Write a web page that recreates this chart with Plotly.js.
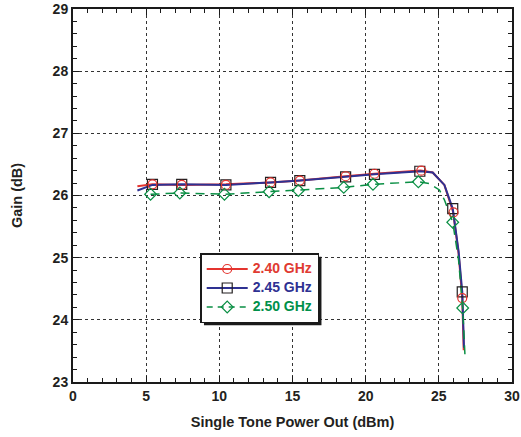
<!DOCTYPE html>
<html>
<head>
<meta charset="utf-8">
<script src="https://cdn.plot.ly/plotly-3.0.1.min.js"></script>
<style>html,body{margin:0;padding:0;background:#fff;}#chart{width:521px;height:437px;}</style>
</head>
<body>
<div id="chart"></div>
<script>
// Series names
const seriesNames = ["2.40 GHz", "2.45 GHz", "2.50 GHz"];

// 2.40 GHz curve (line) and measured points (markers)
const lineX_240 = [4.4, 5.43, 7.43, 10.45, 13.5, 15.5, 18.63, 20.6, 23.75, 24.58, 25.38, 25.97, 26.35, 26.6, 26.7];
const lineY_240 = [26.15, 26.18, 26.17, 26.18, 26.21, 26.24, 26.31, 26.35, 26.40, 26.37, 26.17, 25.74, 25.07, 24.35, 23.51];
const markX_240 = [5.43, 7.43, 10.45, 13.5, 15.5, 18.63, 20.6, 23.8, 26.0, 26.6];
const markY_240 = [26.18, 26.17, 26.17, 26.21, 26.24, 26.31, 26.35, 26.40, 25.73, 24.35];

// 2.45 GHz
const lineX_245 = [4.4, 5.43, 7.43, 10.45, 13.5, 15.5, 18.63, 20.6, 23.75, 24.58, 25.38, 25.95, 26.35, 26.6, 26.72];
const lineY_245 = [26.08, 26.17, 26.18, 26.17, 26.21, 26.24, 26.30, 26.34, 26.39, 26.37, 26.17, 25.79, 25.10, 24.45, 23.55];
const markX_245 = [5.43, 7.43, 10.45, 13.5, 15.5, 18.63, 20.6, 23.7, 25.95, 26.6];
const markY_245 = [26.18, 26.18, 26.17, 26.21, 26.24, 26.30, 26.34, 26.39, 25.79, 24.45];

// 2.50 GHz
const lineX_250 = [5.3, 7.3, 10.35, 13.4, 15.4, 18.5, 20.5, 23.6, 24.36, 25.04, 25.38, 25.95, 26.35, 26.63, 26.79];
const lineY_250 = [26.02, 26.04, 26.02, 26.06, 26.08, 26.13, 26.18, 26.22, 26.19, 26.09, 25.93, 25.57, 24.96, 24.19, 23.41];
const markX_250 = [5.3, 7.3, 10.35, 13.4, 15.4, 18.5, 20.5, 23.6, 25.95, 26.63];
const markY_250 = [26.02, 26.04, 26.02, 26.06, 26.08, 26.13, 26.18, 26.22, 25.57, 24.19];

// Axis ticks
const xTicks = [0, 5, 10, 15, 20, 25, 30];
const yTicks = [23, 24, 25, 26, 27, 28, 29];

const RED = "#e4342f", BLUE = "#2e3192", GREEN = "#0a8f44";
const RED_T = "#e03a31", BLUE_T = "#2e3192", GREEN_T = "#00904a";
const FONT = "Liberation Sans, Arial, sans-serif";

function legName(color, txt) {
  return "<b><span style='color:" + color + ";font-size:14px'>" + txt + "</span></b>";
}

const traces = [
  {x: lineX_240, y: lineY_240, mode: "lines", line: {color: RED, width: 2}, showlegend: false, hoverinfo: "skip"},
  {x: lineX_245, y: lineY_245, mode: "lines", line: {color: BLUE, width: 2}, showlegend: false, hoverinfo: "skip"},
  {x: lineX_250, y: lineY_250, mode: "lines", line: {color: GREEN, width: 1.5, dash: "9px,6px"}, showlegend: false, hoverinfo: "skip"},
  {x: markX_245, y: markY_245, mode: "markers", marker: {symbol: "square-open", size: 10, color: "#231f20", line: {width: 1.2}}, showlegend: false},
  {x: markX_240, y: markY_240, mode: "markers", marker: {symbol: "circle-open", size: 9, color: RED, line: {width: 1.2}}, showlegend: false},
  {x: markX_250, y: markY_250, mode: "markers", marker: {symbol: "diamond-open", size: 9, color: GREEN, line: {width: 1.2}}, showlegend: false},
  {x: [null], y: [null], mode: "lines+markers", name: legName(RED_T, seriesNames[0]),
   line: {color: RED, width: 2}, marker: {symbol: "circle-open", size: 9, color: RED, line: {width: 1.2}}},
  {x: [null], y: [null], mode: "lines+markers", name: legName(BLUE_T, seriesNames[1]),
   line: {color: BLUE, width: 2}, marker: {symbol: "square-open", size: 10, color: "#231f20", line: {width: 1.2}}},
  {x: [null], y: [null], mode: "lines+markers", name: legName(GREEN_T, seriesNames[2]),
   line: {color: GREEN, width: 1.5, dash: "6px,5px"}, marker: {symbol: "diamond-open", size: 9, color: GREEN, line: {width: 1.2}}}
];

const axisCommon = {
  showline: true, linecolor: "#1a1a1a", linewidth: 2, mirror: "allticks",
  ticks: "inside", ticklen: 6, tickcolor: "#1a1a1a", tickwidth: 1,
  showgrid: true, gridcolor: "#333", griddash: "dot", gridwidth: 1,
  zeroline: false,
  tickfont: {family: FONT, size: 14, color: "#231f20", weight: "bold"}
};

const layout = {
  width: 521, height: 437,
  margin: {l: 73, r: 9, t: 9, b: 55},
  paper_bgcolor: "#fff", plot_bgcolor: "#fff",
  font: {family: FONT, color: "#231f20"},
  xaxis: Object.assign({}, axisCommon, {
    range: [0, 30], tickvals: xTicks, ticktext: xTicks.map(String),
    minor: {dtick: 1, ticks: "inside", ticklen: 4, tickcolor: "#1a1a1a", showgrid: false},
    title: {text: "<b>Single Tone Power Out (dBm)</b>", font: {size: 14.5}, standoff: 14}
  }),
  yaxis: Object.assign({}, axisCommon, {
    range: [23, 29], tickvals: yTicks, ticktext: yTicks.map(String),
    minor: {dtick: 0.2, ticks: "inside", ticklen: 4, tickcolor: "#1a1a1a", showgrid: false},
    title: {text: "<b>Gain (dB)</b>", font: {size: 14.5}, standoff: 27}
  }),
  legend: {
    x: (200 - 72.7) / 439.3, y: (382 - 253) / 373, xanchor: "left", yanchor: "top",
    bgcolor: "#fff", bordercolor: "#1a1a1a", borderwidth: 1.5,
    font: {size: 10.5, family: FONT},
    itemwidth: 41,
    tracegroupgap: 0
  },
  showlegend: true
};

Plotly.newPlot("chart", traces, layout, {staticPlot: true}).then(function (gd) {
  // drop shadow behind the legend box
  const bg = gd.querySelector(".legend .bg");
  if (!bg) return;
  const r = bg.getBoundingClientRect();
  const c = gd.getBoundingClientRect();
  const s = gd._fullLayout._size;
  const off = 3;
  const px = (v) => (v - s.l) / s.w;
  const py = (v) => 1 - (v - s.t) / s.h;
  const x0 = r.left - c.left + off, x1 = r.right - c.left + off;
  const y0 = r.top - c.top + off, y1 = r.bottom - c.top + off;
  return Plotly.relayout(gd, {shapes: [{
    type: "rect", xref: "paper", yref: "paper",
    x0: px(x0), x1: px(x1), y0: py(y1), y1: py(y0),
    fillcolor: "#1a1a1a", line: {width: 0}, layer: "above"
  }]});
});
</script>
</body>
</html>
